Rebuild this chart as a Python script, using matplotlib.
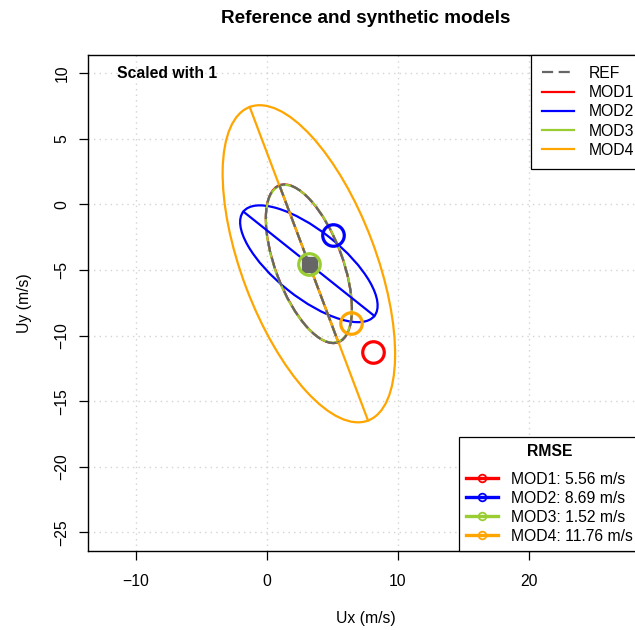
import numpy as np
import matplotlib
matplotlib.use('Agg')
import matplotlib.pyplot as plt
from matplotlib.patches import Ellipse
from matplotlib.lines import Line2D

plt.rcParams['font.family'] = ['Liberation Sans', 'DejaVu Sans']

# reference wind statistics (mean vector + std ellipse)
ref_mean_x = 3.22
ref_mean_y = -4.52
ref_semi_major = 6.39
ref_semi_minor = 2.56
ref_angle = -69.4

models = ['MOD1', 'MOD2', 'MOD3', 'MOD4']
model_colors = ['red', 'blue', 'yellowgreen', 'orange']
model_mean_x = [8.09, 5.04, 3.23, 6.44]
model_mean_y = [-11.28, -2.31, -4.52, -9.04]
model_semi_major = [6.39, 6.39, 6.35, 12.78]
model_semi_minor = [2.56, 2.56, 2.58, 5.12]
model_angle = [-69.4, -38.5, -69.5, -69.3]
rmse = [5.56, 8.69, 1.52, 11.76]

ref_color = '#666666'
fs = 11.3

fig = plt.figure(figsize=(6.35, 6.30), dpi=100)
ax = fig.add_axes([88.3 / 635, 79.3 / 630, 554.7 / 635, 495.7 / 630])
ax.set_xlim(-13.62, 28.73)
ax.set_ylim(-26.40, 11.40)
ax.set_xticks([-10, 0, 10, 20])
ax.set_yticks([-25, -20, -15, -10, -5, 0, 5, 10])
ax.grid(True, color='lightgray', linestyle=(0, (1, 3)), linewidth=1)
ax.set_axisbelow(True)
for sp in ax.spines.values():
    sp.set_linewidth(1.0)
ax.tick_params(axis='both', direction='out', length=6.5, width=0.9, labelsize=fs)
ax.tick_params(axis='x', pad=10)
ax.tick_params(axis='y', pad=7, labelrotation=90)
for lab in ax.get_yticklabels():
    lab.set_va('center')


def draw_ellipse(cx, cy, a, b, ang, color, dashed=False, label=None):
    ls = (0, (5, 2.5)) if dashed else '-'
    e = Ellipse((cx, cy), 2 * a, 2 * b, angle=ang, fill=False,
                edgecolor=color, linewidth=1.6, linestyle=ls)
    ax.add_patch(e)
    # major axis
    t = np.deg2rad(ang)
    dx, dy = a * np.cos(t), a * np.sin(t)
    line, = ax.plot([cx - dx, cx + dx], [cy - dy, cy + dy], color=color,
                    linewidth=1.6, linestyle=ls, label=label)
    return line


handles = []
for i, m in enumerate(models):
    handles.append(draw_ellipse(ref_mean_x, ref_mean_y, model_semi_major[i],
                                model_semi_minor[i], model_angle[i],
                                model_colors[i], label=m))
ref_line = draw_ellipse(ref_mean_x, ref_mean_y, ref_semi_major, ref_semi_minor,
                        ref_angle, ref_color, dashed=True, label='REF')

# mean vectors
ax.plot(ref_mean_x, ref_mean_y, marker='s', markersize=10.8, color=ref_color,
        linestyle='none')
for i in range(len(models)):
    ax.plot(model_mean_x[i], model_mean_y[i], marker='o', markersize=15.5,
            markerfacecolor='none', markeredgecolor=model_colors[i],
            markeredgewidth=2.3, linestyle='none')

ax.text(0.0512, 0.963, 'Scaled with 1', transform=ax.transAxes, ha='left',
        va='center', fontsize=fs, fontweight='bold')

leg1 = ax.legend([ref_line] + handles, ['REF'] + models, loc='upper right',
                 bbox_to_anchor=(1.0036, 1), borderaxespad=0, fontsize=fs,
                 handlelength=2.0, handletextpad=0.95, labelspacing=0.27,
                 borderpad=0.7, fancybox=False, framealpha=1, edgecolor='black')
leg1.get_frame().set_linewidth(0.9)
ax.add_artist(leg1)

rmse_handles = [Line2D([], [], color=c, linewidth=2.4, marker='o', markersize=5.5,
                       markerfacecolor='none', markeredgewidth=1.3)
                for c in model_colors]
rmse_labels = [f'{m}: {r:.2f} m/s' for m, r in zip(models, rmse)]
leg2 = ax.legend(rmse_handles, rmse_labels, loc='lower right',
                 bbox_to_anchor=(0.9946, 0), borderaxespad=0, fontsize=fs,
                 title='RMSE', title_fontproperties={'weight': 'bold', 'size': fs},
                 handlelength=2.0, handletextpad=0.85, labelspacing=0.25,
                 borderpad=0.45, fancybox=False, framealpha=1, edgecolor='black')
leg2.get_frame().set_linewidth(0.9)
# extra room between the RMSE title and its entries
leg2._legend_box.sep = 9.5

ax.set_xlabel('Ux (m/s)', fontsize=fs)
ax.xaxis.set_label_coords(0.5, -0.1358)
ax.xaxis.label.set_va('center')
ax.set_ylabel('Uy (m/s)', fontsize=fs)
ax.yaxis.set_label_coords(-0.1155, 0.5)
ax.yaxis.label.set_va('center')

ax.set_title('Reference and synthetic models', fontsize=fs * 1.2,
             fontweight='bold', y=1.0727, va='center', pad=0)

fig.savefig('out.png', dpi=100)
